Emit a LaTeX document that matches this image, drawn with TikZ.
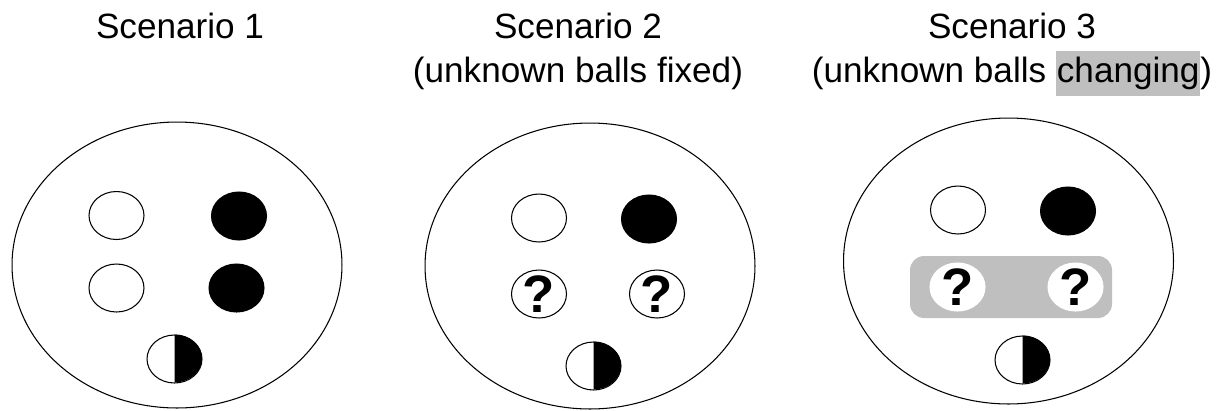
\documentclass[tikz,border=0pt]{standalone}
\usepackage{fontspec}
\setmainfont{Liberation Sans}
\usetikzlibrary{shapes.geometric}
\setlength{\fboxsep}{0.5pt}
\begin{document}
\begin{tikzpicture}[x=0.02cm,y=-0.02cm,
  urn/.style={ellipse,draw,line width=0.6pt,inner sep=0pt,minimum width=6.6cm,minimum height=5.72cm},
  ball/.style={ellipse,draw,line width=0.6pt,inner sep=0pt,minimum width=1.1cm,minimum height=0.96cm},
  black ball/.style={ball,fill=black},
  ask ball/.style={ball,inner sep=-5pt,font=\bfseries\fontsize{30}{30}\selectfont},
  title/.style={align=center,anchor=base,inner sep=0pt,font=\fontsize{20}{24.75}\selectfont}]

  \useasboundingbox (0,0) rectangle (1219,410);

  \node[title] (t1) at (180,38.5) {Scenario 1};
  \node[title] (t2) at (578,82) {Scenario 2\\(unknown balls fixed)};
  \node[title] (t3) at (1012,82) {Scenario 3\\(unknown balls \colorbox{gray!50}{\strut changing})};

  \node[urn] (u1) at (177,265) {};
  \node[urn] (u2) at (590,266) {};
  \node[urn] (u3) at (1008.5,261) {};

  % scenario 1
  \node[ball] (w1) at (116.5,215.5) {};
  \node[black ball] (b1) at (239,216) {};
  \node[ball] (w2) at (116.5,288) {};
  \node[black ball] (b2) at (236.5,288) {};
  \node[ball] (h1) at (174.5,359) {};

  % scenario 2
  \node[ball] (w3) at (539,218) {};
  \node[black ball] (b3) at (649,219) {};
  \node[ask ball] (q1) at (539,294) {?};
  \node[ask ball] (q2) at (657,294) {?};
  \node[ball] (h2) at (593.5,366) {};

  % scenario 3
  \node[rectangle,rounded corners=8pt,fill=gray!50,minimum width=4.04cm,minimum height=1.24cm] (box) at (1011,287) {};
  \node[ball] (w4) at (958,210) {};
  \node[black ball] (b4) at (1068,211) {};
  \node[ask ball,draw=white,fill=white] (q3) at (957.5,287) {?};
  \node[ask ball,draw=white,fill=white] (q4) at (1075.5,287) {?};
  \node[ball] (h3) at (1022.5,360) {};

  \foreach \h in {h1,h2,h3}
    \fill (\h.north) arc[start angle=90,end angle=-90,x radius=0.55cm,y radius=0.48cm] -- cycle;
\end{tikzpicture}
\end{document}
